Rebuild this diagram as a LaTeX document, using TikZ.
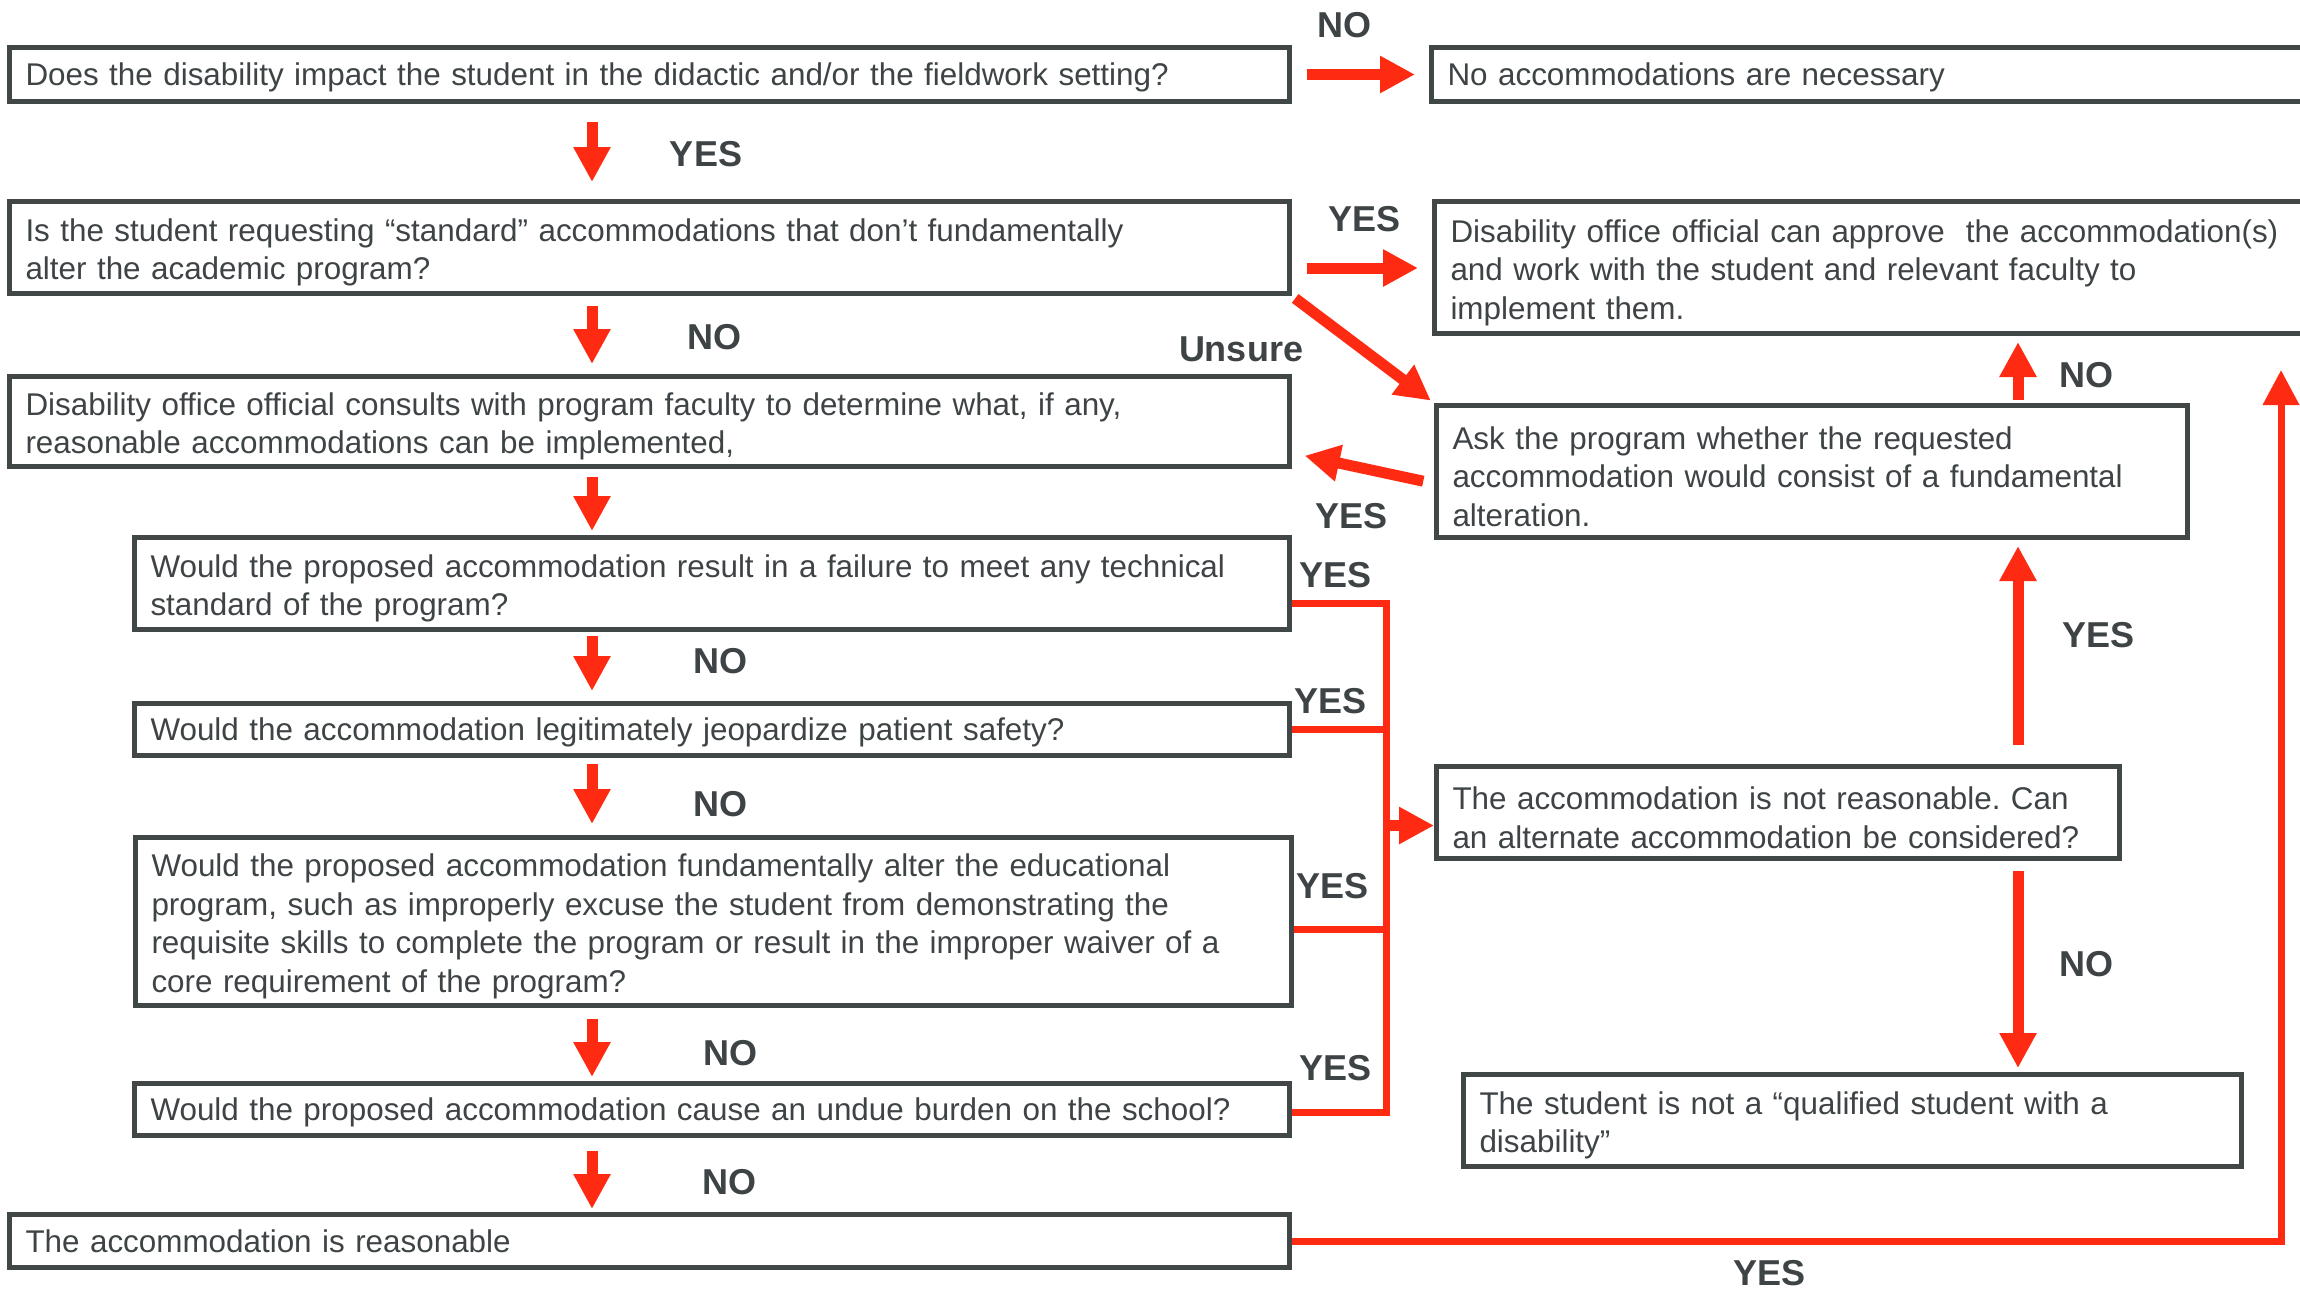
\documentclass[tikz,border=0pt]{standalone}
\usepackage{fontspec}
\setmainfont{Liberation Sans}
\frenchspacing
\usetikzlibrary{arrows.meta}
\definecolor{edgegray}{HTML}{414647}
\definecolor{inkgray}{HTML}{3E4345}
\definecolor{flowred}{HTML}{FF2A12}
\tikzset{
  box/.style={draw=edgegray,line width=2.5pt,inner xsep=8pt,inner ysep=2pt,
    align=left,text=inkgray,font=\fontsize{15.7pt}{19.3pt}\selectfont,
    execute at end node={\par\vspace*{-5pt}}},
  arr/.style={draw=flowred,line width=5.5pt,
    -{Triangle[length=17.5pt,width=17.5pt]}},
  link/.style={draw=flowred,line width=3.5pt},
  lbl/.style={text=inkgray,font=\fontsize{18pt}{20pt}\selectfont\bfseries}
}

\begin{document}
\begin{tikzpicture}[x=0.5pt,y=-0.5pt]
    \useasboundingbox (0,0) rectangle (2300,1292);
    \node (impact) [box,minimum width=640pt,minimum height=27pt,text width=624pt] at (649.5,74.5) {Does the disability impact the student in the didactic and/or the fieldwork setting?};
    \node (none) [box,minimum width=453pt,minimum height=27pt,text width=437pt] at (1884.5,74.5) {No accommodations are necessary};
    \node (standard) [box,minimum width=640pt,minimum height=46pt,text width=624pt] at (649.5,247.5) {Is the student requesting “standard” accommodations that don’t fundamentally\\alter the academic program?};
    \node (approve) [box,minimum width=451.5pt,minimum height=66pt,text width=435.5pt] at (1886,267.5) {Disability office official can approve\ \ the accommodation(s)\\and work with the student and relevant faculty to\\implement them.};
    \node (consult) [box,minimum width=640pt,minimum height=45pt,text width=624pt] at (649.5,421.5) {Disability office official consults with program faculty to determine what, if any,\\reasonable accommodations can be implemented,};
    \node (ask) [box,minimum width=375.5pt,minimum height=66pt,text width=359.5pt] at (1812,471.5) {Ask the program whether the requested\\accommodation would consist of a fundamental\\alteration.};
    \node (technical) [box,minimum width=577.5pt,minimum height=46pt,text width=561.5pt] at (712,583.5) {Would the proposed accommodation result in a failure to meet any technical\\standard of the program?};
    \node (safety) [box,minimum width=577.5pt,minimum height=26pt,text width=561.5pt] at (712,729.5) {Would the accommodation legitimately jeopardize patient safety?};
    \node (alter) [box,minimum width=578pt,minimum height=84pt,text width=562pt] at (713.5,921.5) {Would the proposed accommodation fundamentally alter the educational\\program, such as improperly excuse the student from demonstrating the\\requisite skills to complete the program or result in the improper waiver of a\\core requirement of the program?};
    \node (burden) [box,minimum width=577.5pt,minimum height=26pt,text width=561.5pt] at (712,1109.5) {Would the proposed accommodation cause an undue burden on the school?};
    \node (reasonable) [box,minimum width=640pt,minimum height=26.5pt,text width=624pt] at (649.5,1241) {The accommodation is reasonable};
    \node (notreas) [box,minimum width=341.5pt,minimum height=46pt,text width=325.5pt] at (1778,812.5) {The accommodation is not reasonable. Can\\an alternate accommodation be considered?};
    \node (notqual) [box,minimum width=389pt,minimum height=46pt,text width=373pt] at (1852.5,1120.5) {The student is not a “qualified student with a\\disability”};

    \coordinate (col) at (592,0);
    \coordinate (up) at (2018,0);
    \coordinate (bus) at (1386,0);
    \coordinate (rail) at (2281,0);

    \draw[arr,shorten <=7.5pt,shorten >=7pt] (impact) -- (none);
    \draw[arr,shorten <=9pt,shorten >=8.5pt] (impact.south -| col) -- (standard.north -| col);
    \draw[arr,shorten <=7.5pt,shorten >=7pt] ([yshift=-10.25pt]standard.east) -- ([yshift=-10.25pt]standard.east -| approve.west);
    \draw[arr,shorten <=5pt,shorten >=5pt] (standard.south -| col) -- (consult.north -| col);
    \draw[arr,shorten <=2pt,shorten >=2pt] (standard.south east) -- (ask.north west);
    \draw[arr,shorten <=5.5pt,shorten >=6.5pt] ([yshift=-6pt]ask.west) -- ([yshift=-15.75pt]consult.east);
    \draw[arr,shorten <=4pt,shorten >=2pt] (consult.south -| col) -- (technical.north -| col);
    \draw[arr,shorten <=2pt,shorten >=5pt] (technical.south -| col) -- (safety.north -| col);
    \draw[arr,shorten <=3pt,shorten >=5.5pt] (safety.south -| col) -- (alter.north -| col);
    \draw[arr,shorten <=5.5pt,shorten >=2pt] (alter.south -| col) -- (burden.north -| col);
    \draw[arr,shorten <=6.5pt,shorten >=1.5pt] (burden.south -| col) -- (reasonable.north -| col);

    \draw[link] ([yshift=-9.75pt]technical.east) -| ([yshift=-1.25pt]burden.east -| bus) -- ([yshift=-1.25pt]burden.east);
    \draw[link] (safety.east) -- (safety.east -| bus);
    \draw[link] ([yshift=-3.75pt]alter.east) -- ([yshift=-3.75pt]alter.east -| bus);
    \draw[arr] ([yshift=-6.5pt]notreas.west -| bus) -- ([yshift=-6.5pt]notreas.west);

    \draw[arr,shorten <=9.5pt,shorten >=3pt] (notreas.north -| up) -- (ask.south -| up);
    \draw[arr,shorten <=1.5pt,shorten >=3pt] (ask.north -| up) -- (approve.south -| up);
    \draw[arr,shorten <=5pt,shorten >=2pt] (notreas.south -| up) -- (notqual.north -| up);
    \draw[arr,line width=3.5pt,shorten >=17pt] (reasonable.east) -| (rail |- approve.south);

    \node (lnone) [lbl] at (1344,25) {NO};
    \node (lstd) [lbl] at (706,154) {YES};
    \node (lapp) [lbl] at (1364,219) {YES};
    \node (lcon) [lbl] at (714,337) {NO};
    \node (lunsure) [lbl] at (1241,349) {Unsure};
    \node (lback) [lbl] at (1351,516) {YES};
    \node (ltech) [lbl] at (1335,575) {YES};
    \node (lsafe) [lbl] at (720,661) {NO};
    \node (lsafey) [lbl] at (1330,701) {YES};
    \node (lalt) [lbl] at (720,804) {NO};
    \node (lalty) [lbl] at (1332,886) {YES};
    \node (lbur) [lbl] at (730,1053) {NO};
    \node (lbury) [lbl] at (1335,1068) {YES};
    \node (lreas) [lbl] at (729,1182) {NO};
    \node (lask) [lbl] at (2098,635) {YES};
    \node (lappr) [lbl] at (2086,375) {NO};
    \node (lqual) [lbl] at (2086,964) {NO};
    \node (lrail) [lbl] at (1769,1273) {YES};
\end{tikzpicture}
\end{document}
